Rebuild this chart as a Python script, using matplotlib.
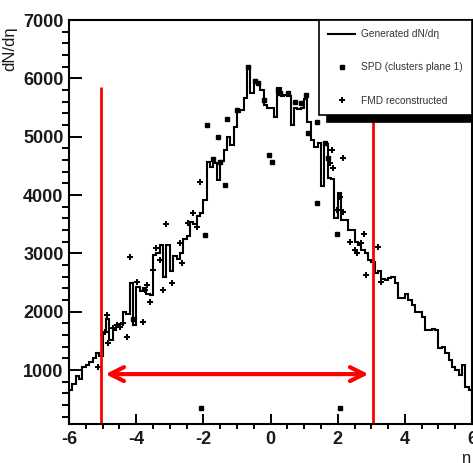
import numpy as np
import matplotlib.pyplot as plt
from matplotlib.ticker import MultipleLocator

plt.rcParams['font.family'] = ['Liberation Sans', 'DejaVu Sans']
plt.rcParams['axes.unicode_minus'] = False

# generated dN/deta histogram, 0.1 wide bins from -6 to 6
edges = np.round(np.arange(-6.0, 6.01, 0.1), 2)
gen = [650, 760, 900, 850, 1060, 1090, 1140, 1200, 1300, 1240,
       1650, 1880, 1520, 1690, 1760, 1790, 2000, 1960, 2500, 1780,
       2430, 2360, 2400, 2300, 2280, 2970, 3000, 3150, 2600, 3150,
       2700, 2950, 2900, 3000, 3250, 3300, 3540, 3500, 3640, 3700,
       3920, 4570, 4480, 4550, 4250, 4580, 4770, 5000, 4850, 5170,
       5430, 5450, 5660, 6200, 5750, 5970, 5900, 5800, 5550, 5500,
       5490, 5340, 5830, 5700, 5720, 5690, 5200, 5500, 5480, 5500,
       5650, 5250, 4950, 4830, 4900, 4150, 4880, 4290, 4280, 3600,
       4030, 3570, 3570, 3400, 3400, 3200, 3150, 3060, 3000, 2890,
       2850, 2660, 2700, 2560, 2540, 2580, 2590, 2500, 2230, 2230,
       2300, 2200, 2120, 2000, 1990, 1910, 1690, 1680, 1700, 1690,
       1380, 1400, 1300, 1170, 1060, 1000, 915, 1085, 715, 660]

# SPD clusters (plane 1)
spd_eta = [-4.1, -2.08, -1.95, -1.88, -1.71, -1.56, -1.5, -1.36, -1.3, -1.0,
           -0.67, -0.46, -0.37, -0.21, -0.06, 0.05, 0.23, 0.29, 0.53, 0.74,
           0.9, 1.05, 1.12, 1.37, 1.37, 1.62, 1.71, 1.97, 2.06]
spd_val = [1870, 350, 3310, 5200, 4620, 5000, 4560, 4170, 5300, 5460,
           6200, 5950, 5920, 5630, 4690, 4570, 5800, 5750, 5750, 5600,
           5580, 5715, 5060, 5260, 3860, 4890, 4630, 3340, 350]

# FMD reconstructed
fmd_eta = [-5.13, -4.93, -4.88, -4.84, -4.69, -4.58, -4.48, -4.39, -4.28, -4.18,
           -3.99, -3.8, -3.74, -3.69, -3.6, -3.5, -3.4, -3.3, -3.2, -3.1,
           -2.94, -2.7, -2.65, -2.45, -2.3, -2.2, -2.1, 1.77, 1.82, 1.86,
           1.97, 2.07, 2.16, 2.17, 2.38, 2.5, 2.57, 2.68, 2.77, 2.85,
           3.2, 3.3]
fmd_val = [1060, 1660, 1940, 1460, 1720, 1770, 1740, 1800, 1570, 2940,
           2510, 1830, 2370, 2460, 2170, 2720, 3090, 2890, 2370, 3510,
           2490, 3170, 2830, 3520, 3690, 3460, 4230, 4550, 4770, 4460,
           3740, 3970, 4630, 3710, 3200, 3060, 3000, 3170, 3340, 2630,
           3110, 2510]

# acceptance limits marked in red
eta_lo, eta_hi = -5.05, 3.05
top_lo, top_hi = 5850, 5800
arrow_y = 930

fig = plt.figure(figsize=(4.73, 4.63), dpi=100)
ax = fig.add_axes([0.146, 0.0836, 0.852, 0.8732])

ax.stairs(gen, edges, color='black', lw=1.5, label='Generated dN/d\u03b7')
ax.plot(spd_eta, spd_val, 's', color='black', ms=3.5, label='SPD (clusters plane 1)')
ax.plot(fmd_eta, fmd_val, 'P', color='black', ms=4.2, mew=0, label='FMD reconstructed')

ax.vlines([eta_lo, eta_hi], 70, [top_lo, top_hi], colors='red', lw=2)
ax.annotate('', xy=(eta_lo + 0.05, arrow_y), xytext=(eta_hi - 0.05, arrow_y),
            arrowprops=dict(arrowstyle='<->,head_length=1.0,head_width=0.5',
                            color='red', lw=3))

ax.set_xlim(-6, 6)
ax.set_ylim(70, 7000)
ax.xaxis.set_major_locator(MultipleLocator(2))
ax.xaxis.set_minor_locator(MultipleLocator(0.5))
ax.yaxis.set_major_locator(MultipleLocator(1000))
ax.yaxis.set_minor_locator(MultipleLocator(200))
ax.tick_params(direction='in', labelsize=13, labelcolor='#1a1a1a', width=1.4)
ax.tick_params(axis='y', which='major', length=9.5, pad=4)
ax.tick_params(axis='y', which='minor', length=5, width=1.4)
ax.tick_params(axis='x', which='major', length=7, pad=5)
ax.tick_params(axis='x', which='minor', length=3.6, width=1.4)
for lab in ax.get_xticklabels() + ax.get_yticklabels():
    lab.set_fontweight('bold')
for s in ax.spines.values():
    s.set_linewidth(1.5)

ax.set_ylabel('dN/d\u03b7', fontsize=12, color='#1a1a1a')
ax.yaxis.set_label_coords(-0.146, 0.93)
ax.yaxis.label.set_va('center')
ax.set_xlabel('\u03b7', fontsize=12, color='#1a1a1a')
ax.xaxis.set_label_coords(0.985, -0.065)

leg = ax.legend(loc='upper right', bbox_to_anchor=(1.0, 1.0), borderaxespad=0,
                fontsize=7.3, frameon=True, fancybox=False, edgecolor='black',
                labelspacing=2.3, handlelength=2.7, handletextpad=0.6,
                borderpad=0.9, labelcolor='#333333',
                shadow={'color': 'black', 'alpha': 1, 'ox': 6, 'oy': -5})
leg.get_frame().set_linewidth(1.2)

fig.savefig('out.png', dpi=100)
